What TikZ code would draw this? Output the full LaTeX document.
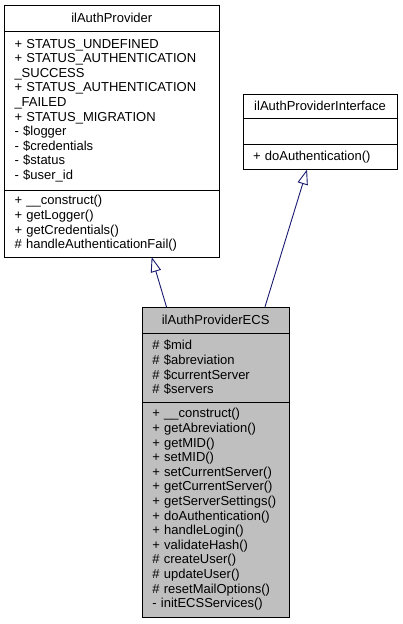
\documentclass[tikz,border=0pt]{standalone}
\usepackage{fontspec}
\setmainfont{Liberation Sans}
\usetikzlibrary{arrows.meta,calc}
\definecolor{edgeblue}{HTML}{191970}
\definecolor{classgray}{HTML}{BFBFBF}
\begin{document}
\begin{tikzpicture}[x=1pt,y=-1pt,
        part/.style={draw=black, line width=0.9pt, outer sep=0pt, inner xsep=10pt, inner ysep=0pt,
            anchor=north west, align=left, font=\fontsize{13}{14.6}\selectfont},
        head/.style={part, align=center},
        inherit/.style={draw=edgeblue, line width=0.9pt, -{Triangle[open,length=15pt,width=10.5pt]}}]
        \useasboundingbox (0,0) rectangle (403,624);

        % ilAuthProvider
        \node[head, text width=194.5pt, minimum height=26pt] (provTitle) at (4.5,5) {ilAuthProvider};
        \node[part, text width=194.5pt, minimum height=159pt] (provAttr) at (4.5,31)
            {+ STATUS\_UNDEFINED\\+ STATUS\_AUTHENTICATION\\\_SUCCESS\\+ STATUS\_AUTHENTICATION\\\_FAILED\\+ STATUS\_MIGRATION\\- \$logger\\- \$credentials\\- \$status\\- \$user\_id};
        \node[part, text width=194.5pt, minimum height=67pt] (provOps) at (4.5,190)
            {+ \_\_construct()\\+ getLogger()\\+ getCredentials()\\\# handleAuthenticationFail()};

        % ilAuthProviderInterface
        \node[head, text width=134pt, minimum height=24.5pt] (ifaceTitle) at (243,94) {ilAuthProviderInterface};
        \node[part, text width=134pt, minimum height=25.5pt] (ifaceAttr) at (243,118.5) {};
        \node[part, text width=134pt, minimum height=25.5pt] (ifaceOps) at (243,144) {+ doAuthentication()};

        % ilAuthProviderECS
        \node[head, fill=classgray, text width=126.7pt, minimum height=26pt] (ecsTitle) at (142.3,307) {ilAuthProviderECS};
        \node[part, fill=classgray, text width=126.7pt, minimum height=69pt] (ecsAttr) at (142.3,333)
            {\# \$mid\\\# \$abreviation\\\# \$currentServer\\\# \$servers};
        \node[part, fill=classgray, text width=126.7pt, minimum height=215pt] (ecsOps) at (142.3,402)
            {+ \_\_construct()\\+ getAbreviation()\\+ getMID()\\+ setMID()\\+ setCurrentServer()\\+ getCurrentServer()\\+ getServerSettings()\\+ doAuthentication()\\+ handleLogin()\\+ validateHash()\\\# createUser()\\\# updateUser()\\\# resetMailOptions()\\- initECSServices()};

        \draw[inherit] ($(ecsTitle.north west)!0.165!(ecsTitle.north east)$) -- ($(provOps.south west)!0.686!(provOps.south east)$);
        \draw[inherit] ($(ecsTitle.north west)!0.836!(ecsTitle.north east)$) -- ($(ifaceOps.south west)!0.416!(ifaceOps.south east)$);
\end{tikzpicture}
\end{document}
